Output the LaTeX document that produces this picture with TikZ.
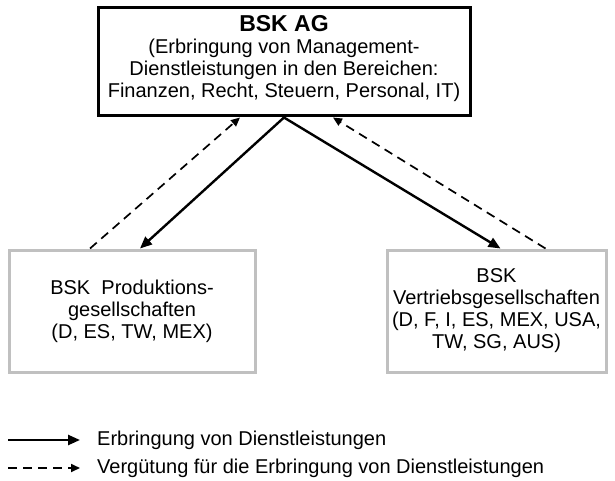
\documentclass[tikz,border=0pt]{standalone}
\usepackage{fontspec}
\setmainfont{Liberation Sans}
\usepackage{tikz}
\usetikzlibrary{arrows.meta,calc}
\definecolor{boxgray}{RGB}{192,192,192}
\tikzstyle{topbox} = [draw=black, line width=3pt, align=center, minimum width=372pt, minimum height=108pt, inner sep=0pt, font=\fontsize{20}{22}\selectfont]
\tikzstyle{subbox} = [draw=boxgray, line width=3pt, align=center, minimum height=122pt, inner sep=0pt, font=\fontsize{20}{22}\selectfont]
\tikzstyle{service} = [line width=2.4pt, -{Triangle[length=12pt,width=10pt]}]
\tikzstyle{payment} = [line width=1.7pt, dash pattern=on 9pt off 6pt, -{Triangle[length=9pt,width=8pt]}]
\tikzstyle{legend} = [anchor=west, inner sep=0pt, font=\fontsize{20}{22}\selectfont]

\begin{document}
\begin{tikzpicture}[x=1pt,y=-1pt]
	\useasboundingbox (0,0) rectangle (615,481);
	% boxes
	\node[topbox] (ag) at (284,62) {{\fontsize{23}{26}\selectfont\bfseries BSK AG}\\
		(Erbringung von Management-\\
		Dienstleistungen in den Bereichen:\\
		Finanzen, Recht, Steuern, Personal, IT)\rule[-12pt]{0pt}{12pt}};
	\node[subbox, minimum width=246pt] (prod) at (132,311) {BSK\ \ Produktions-\\gesellschaften\\(D, ES, TW, MEX)};
	\node[subbox, minimum width=219pt] (vert) at (496.5,311) {BSK\\Vertriebsgesellschaften\\(D, F, I, ES, MEX, USA,\\TW, SG, AUS)};
	% arrows
	\draw[service] (ag.south) -- ($(prod.north)+(8,0)$);
	\draw[service] (ag.south) -- ($(vert.north)+(4,0)$);
	\draw[payment] ($(prod.north)+(-42,0)$) -- ($(ag.south)+(-44,0)$);
	\draw[payment] ($(vert.north)+(49,0)$) -- ($(ag.south)+(49,0)$);
	% legend
	\coordinate (s1) at (8,440);
	\coordinate (s2) at (80,440);
	\coordinate (d1) at (8,468);
	\coordinate (d2) at (80,468);
	\node[legend] (ls) at (97,440) {Erbringung von Dienstleistungen};
	\node[legend] (ld) at (97,468) {Vergütung für die Erbringung von Dienstleistungen};
	\draw[service] (s1) -- (s2);
	\draw[payment] (d1) -- (d2);
\end{tikzpicture}
\end{document}
